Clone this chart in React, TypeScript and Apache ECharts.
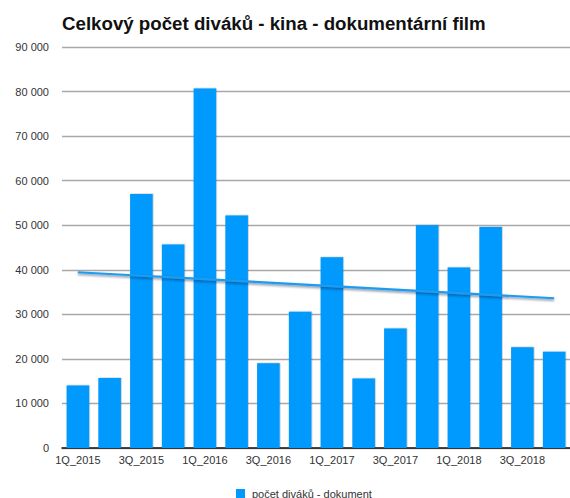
import React, { useEffect, useRef } from "react";
import * as echarts from "echarts";

const categories = [
  "1Q_2015", "2Q_2015", "3Q_2015", "4Q_2015",
  "1Q_2016", "2Q_2016", "3Q_2016", "4Q_2016",
  "1Q_2017", "2Q_2017", "3Q_2017", "4Q_2017",
  "1Q_2018", "2Q_2018", "3Q_2018", "4Q_2018",
];
const viewers = [
  14000, 15700, 57000, 45700, 80700, 52200, 19000, 30600,
  42800, 15600, 26800, 50000, 40500, 49600, 22600, 21600,
];
const seriesName = "počet diváků - dokument";
const titleText = "Celkový počet diváků - kina - dokumentární film";

function linearTrend(values: number[]): number[] {
  const n = values.length;
  const mx = (n - 1) / 2;
  const my = values.reduce((a, b) => a + b, 0) / n;
  let sxy = 0;
  let sxx = 0;
  values.forEach((v, i) => {
    sxy += (i - mx) * (v - my);
    sxx += (i - mx) * (i - mx);
  });
  const slope = sxy / sxx;
  return values.map((_, i) => my + slope * (i - mx));
}

const fmt = (v: number) =>
  String(Math.round(v)).replace(/\B(?=(\d{3})+(?!\d))/g, " ");

export default function App() {
  const ref = useRef<HTMLDivElement>(null);
  useEffect(() => {
    if (!ref.current) return;
    const chart = echarts.init(ref.current, undefined, { renderer: "svg" });
    const font = "'Liberation Sans', Arial, Helvetica, sans-serif";
    chart.setOption({
      animation: false,
      textStyle: { fontFamily: font },
      title: {
        text: titleText,
        left: 62,
        top: 14,
        padding: 0,
        textStyle: { fontSize: 18.7, fontWeight: "bold", color: "#111", fontFamily: font },
      },
      legend: {
        left: 236,
        top: 488,
        padding: 0,
        itemWidth: 9,
        itemHeight: 9,
        icon: "rect",
        data: [seriesName],
        textStyle: { fontSize: 11, color: "#333", fontFamily: font, padding: [0, 0, 0, 2] },
      },
      grid: { left: 62, right: 0, top: 47, bottom: 50, containLabel: false },
      xAxis: {
        type: "category",
        data: categories,
        axisLine: { show: true, lineStyle: { color: "#111", width: 1.5 } },
        axisTick: { show: false },
        axisLabel: { interval: 1, fontSize: 11, color: "#333", margin: 6, fontFamily: font },
      },
      yAxis: {
        type: "value",
        min: 0,
        max: 90000,
        interval: 10000,
        axisLine: { show: false },
        axisTick: { show: false },
        axisLabel: { fontSize: 11, color: "#333", margin: 13, formatter: fmt, fontFamily: font },
        splitLine: { lineStyle: { color: "#a8a8a8", width: 1.4 } },
      },
      series: [
        {
          name: seriesName,
          type: "bar",
          data: viewers,
          barCategoryGap: "29%",
          itemStyle: {
            color: "#0199fe",
            shadowColor: "rgba(0,0,0,0.35)",
            shadowBlur: 1.5,
            shadowOffsetX: 0.5,
            shadowOffsetY: -0.3,
          },
        },
        {
          name: "trend",
          type: "line",
          data: linearTrend(viewers),
          symbol: "none",
          silent: true,
          z: 5,
          lineStyle: {
            color: "#1f9cf0",
            width: 2.2,
            shadowColor: "rgba(0,30,70,0.55)",
            shadowBlur: 2,
            shadowOffsetY: 1.5,
          },
        },
      ],
    });
    return () => chart.dispose();
  }, []);
  return (
    <div
      ref={ref}
      style={{ width: 570, height: 498, position: "absolute", left: 0, top: 0 }}
    />
  );
}
